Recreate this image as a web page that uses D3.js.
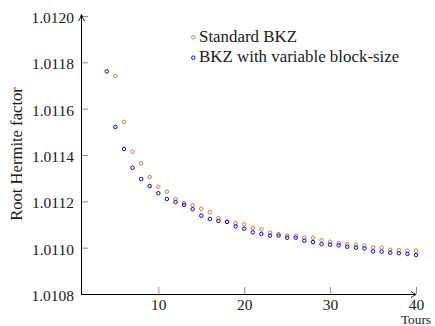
<!DOCTYPE html>
<html>
<head>
<meta charset="utf-8">
<script src="https://cdn.jsdelivr.net/npm/d3@7"></script>
<style>
  html, body { margin: 0; padding: 0; background: #fff; }
  svg, svg text { font-family: "Liberation Serif", "Times New Roman", serif !important; }
</style>
</head>
<body>
<svg id="chart" width="435" height="326"></svg>
<script>
// Root Hermite factor per tour
const toursStandard = [5,6,7,8,9,10,11,12,13,14,15,16,17,18,19,20,21,22,23,24,25,26,27,28,29,30,31,32,33,34,35,36,37,38,39,40];
const standardBKZ = [1.011741,1.011543,1.011414,1.011364,1.011305,1.011263,1.011242,1.011210,1.011192,1.011183,
  1.011168,1.011153,1.011128,1.011112,1.011106,1.011101,1.011085,1.011079,1.011065,1.011059,
  1.011052,1.011052,1.011043,1.011043,1.011032,1.011026,1.011020,1.011015,1.011013,1.011009,
  1.011001,1.011000,1.010991,1.010990,1.010987,1.010987];

const toursVariable = [4,5,6,7,8,9,10,11,12,13,14,15,16,17,18,19,20,21,22,23,24,25,26,27,28,29,30,31,32,33,34,35,36,37,38,39,40];
const variableBKZ = [1.011761,1.011521,1.011426,1.011345,1.011296,1.011266,1.011235,1.011210,1.011197,1.011185,1.011166,
  1.011138,1.011124,1.011115,1.011111,1.011092,1.011082,1.011066,1.011059,1.011052,1.011052,
  1.011043,1.011043,1.011030,1.011024,1.011015,1.011013,1.011010,1.011004,1.011000,1.010997,
  1.010984,1.010983,1.010978,1.010976,1.010973,1.010968];

const xTicks = [10, 20, 30, 40];
const yTicks = [1.0108, 1.0110, 1.0112, 1.0114, 1.0116, 1.0118, 1.0120];
const seriesNames = ["Standard BKZ", "BKZ with variable block-size"];
const seriesColors = ["#bf8040", "#0000ff"];

const svg = d3.select("#chart");
const x = d3.scaleLinear().domain([1, 40]).range([81, 416]);
const y = d3.scaleLinear().domain([1.0108, 1.0120]).range([294, 16]);

// y axis: grey inward ticks, labels on the left
const yAxis = svg.append("g").attr("transform", `translate(${x.range()[0]},0)`)
  .call(d3.axisRight(y).tickValues(yTicks).tickSize(7).tickFormat(d3.format(".4f")))
  .attr("font-family", null).attr("font-size", null);
yAxis.select(".domain").remove();
yAxis.selectAll(".tick line").attr("stroke", "#8c8c8c").attr("stroke-width", 1);
yAxis.selectAll(".tick text")
  .attr("x", -7).attr("dy", "0.42em").attr("text-anchor", "end")
  .style("font-size", "15.5px").attr("fill", "#1a1a1a");

// x axis: grey upward ticks, labels below
const xAxis = svg.append("g").attr("transform", `translate(0,${y.range()[0]})`)
  .call(d3.axisTop(x).tickValues(xTicks).tickSize(7).tickFormat(d3.format("d")))
  .attr("font-family", null).attr("font-size", null);
xAxis.select(".domain").remove();
xAxis.selectAll(".tick line").attr("stroke", "#8c8c8c").attr("stroke-width", 1);
xAxis.selectAll(".tick text")
  .attr("y", 16).attr("dy", 0).attr("text-anchor", "middle")
  .style("font-size", "15.5px").attr("fill", "#1a1a1a");

// axis lines with arrow heads
const x0 = x.range()[0], x1 = x.range()[1], y0 = y.range()[0], y1 = y.range()[1];
svg.append("line").attr("x1", x0).attr("y1", y0 + 0.5).attr("x2", x1 - 1).attr("y2", y0 + 0.5)
  .attr("stroke", "#000").attr("stroke-width", 1);
svg.append("line").attr("x1", x0 + 0.5).attr("y1", y0 + 0.5).attr("x2", x0 + 0.5).attr("y2", y1 - 1)
  .attr("stroke", "#000").attr("stroke-width", 1);
svg.append("path")
  .attr("d", `M${x1 - 5},${y0 - 2.6} Q${x1 - 2},${y0 - 0.3} ${x1},${y0 + 0.5} Q${x1 - 2},${y0 + 1.3} ${x1 - 5},${y0 + 3.6}`)
  .attr("fill", "none").attr("stroke", "#000").attr("stroke-width", 0.9);
svg.append("path")
  .attr("d", `M${x0 - 2.6},${y1 + 5} Q${x0 - 0.3},${y1 + 2} ${x0 + 0.5},${y1 - 1.5} Q${x0 + 1.3},${y1 + 2} ${x0 + 3.6},${y1 + 5}`)
  .attr("fill", "none").attr("stroke", "#000").attr("stroke-width", 0.9);

// axis titles
svg.append("text").attr("x", 431).attr("y", 323.5).attr("text-anchor", "end")
  .style("font-size", "13.3px").attr("fill", "#1a1a1a").text("Tours");
svg.append("text").attr("transform", "translate(22,154) rotate(-90)").attr("text-anchor", "middle")
  .style("font-size", "16.6px").attr("fill", "#1a1a1a").text("Root Hermite factor");

// data marks
const series = [
  { xs: toursStandard, ys: standardBKZ },
  { xs: toursVariable, ys: variableBKZ }
];
series.forEach((s, i) => {
  svg.append("g").selectAll("circle")
    .data(s.xs.map((t, k) => [t, s.ys[k]]))
    .join("circle")
    .attr("cx", d => x(d[0])).attr("cy", d => y(d[1])).attr("r", 1.75)
    .attr("fill", "none").attr("stroke", seriesColors[i]).attr("stroke-width", 1);
});

// legend
const legend = svg.append("g");
seriesNames.forEach((name, i) => {
  const ly = 37.3 + i * 20.4;
  legend.append("circle").attr("cx", 193.3).attr("cy", ly).attr("r", 1.75)
    .attr("fill", "none").attr("stroke", seriesColors[i]).attr("stroke-width", 1);
  legend.append("text").attr("x", 199).attr("y", ly + 4.5)
    .style("font-size", "16.9px").attr("fill", "#1a1a1a").text(name);
});
</script>
</body>
</html>
